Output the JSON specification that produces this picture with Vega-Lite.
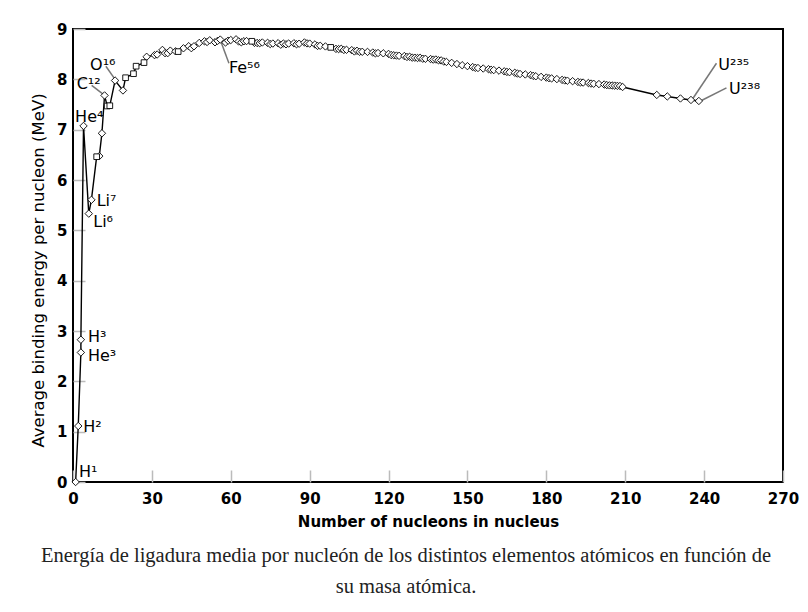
{
  "$schema": "https://vega.github.io/schema/vega-lite/v6.json",
  "width": 710,
  "height": 453,
  "autosize": {"type": "none"},
  "padding": {"left": 73, "top": 29, "right": 25, "bottom": 130},
  "background": "white",
  "config": {"view": {"stroke": "black", "strokeWidth": 2}},
  "title": {
    "text": ["Energía de ligadura media por nucleón de los distintos elementos atómicos en función de", "su masa atómica."],
    "orient": "bottom",
    "anchor": "middle",
    "dx": -22,
    "offset": 17,
    "font": "Liberation Serif",
    "fontSize": 20.5,
    "fontWeight": "normal",
    "color": "#222",
    "lineHeight": 31
  },
  "datasets": {
    "pts": [
      {"A": 1, "E": 0, "m": "d"}, {"A": 2, "E": 1.112, "m": "d"}, {"A": 3, "E": 2.573, "m": "d"}, {"A": 3, "E": 2.827, "m": "d"},
      {"A": 4, "E": 7.074, "m": "d"}, {"A": 6, "E": 5.332, "m": "d"}, {"A": 7, "E": 5.606, "m": "d"}, {"A": 9, "E": 6.463, "m": "s"},
      {"A": 10, "E": 6.475, "m": "d"}, {"A": 11, "E": 6.928, "m": "d"}, {"A": 12, "E": 7.68, "m": "d"}, {"A": 13, "E": 7.47, "m": "s"},
      {"A": 14, "E": 7.476, "m": "s"}, {"A": 16, "E": 7.976, "m": "d"}, {"A": 19, "E": 7.779, "m": "d"}, {"A": 20, "E": 8.032, "m": "s"},
      {"A": 23, "E": 8.112, "m": "s"}, {"A": 24, "E": 8.261, "m": "s"}, {"A": 27, "E": 8.332, "m": "s"}, {"A": 28, "E": 8.448, "m": "d"},
      {"A": 31, "E": 8.481, "m": "d"}, {"A": 32, "E": 8.493, "m": "d"}, {"A": 34, "E": 8.584, "m": "d"}, {"A": 35, "E": 8.52, "m": "d"},
      {"A": 36, "E": 8.52, "m": "d"}, {"A": 37, "E": 8.57, "m": "d"}, {"A": 39, "E": 8.557, "m": "d"}, {"A": 40, "E": 8.551, "m": "s"},
      {"A": 42, "E": 8.617, "m": "d"}, {"A": 44, "E": 8.658, "m": "d"}, {"A": 45, "E": 8.619, "m": "d"}, {"A": 46, "E": 8.656, "m": "d"},
      {"A": 48, "E": 8.723, "m": "d"}, {"A": 50, "E": 8.756, "m": "d"}, {"A": 51, "E": 8.742, "m": "d"}, {"A": 52, "E": 8.776, "m": "d"},
      {"A": 54, "E": 8.736, "m": "d"}, {"A": 55, "E": 8.765, "m": "d"}, {"A": 56, "E": 8.79, "m": "d"}, {"A": 58, "E": 8.732, "m": "d"},
      {"A": 59, "E": 8.768, "m": "d"}, {"A": 60, "E": 8.781, "m": "d"}, {"A": 62, "E": 8.795, "m": "d"}, {"A": 63, "E": 8.752, "m": "d"},
      {"A": 64, "E": 8.736, "m": "d"}, {"A": 65, "E": 8.757, "m": "d"}, {"A": 66, "E": 8.76, "m": "d"}, {"A": 68, "E": 8.756, "m": "s"},
      {"A": 69, "E": 8.725, "m": "d"}, {"A": 70, "E": 8.722, "m": "d"}, {"A": 71, "E": 8.718, "m": "d"}, {"A": 72, "E": 8.732, "m": "d"},
      {"A": 74, "E": 8.725, "m": "d"}, {"A": 75, "E": 8.701, "m": "d"}, {"A": 76, "E": 8.711, "m": "d"}, {"A": 78, "E": 8.718, "m": "d"},
      {"A": 79, "E": 8.688, "m": "d"}, {"A": 80, "E": 8.711, "m": "d"}, {"A": 81, "E": 8.696, "m": "d"}, {"A": 82, "E": 8.711, "m": "d"},
      {"A": 84, "E": 8.717, "m": "d"}, {"A": 85, "E": 8.697, "m": "d"}, {"A": 86, "E": 8.708, "m": "d"}, {"A": 88, "E": 8.733, "m": "d"},
      {"A": 89, "E": 8.714, "m": "d"}, {"A": 90, "E": 8.71, "m": "d"}, {"A": 92, "E": 8.693, "m": "d"}, {"A": 93, "E": 8.664, "m": "d"},
      {"A": 94, "E": 8.667, "m": "d"}, {"A": 96, "E": 8.654, "m": "d"}, {"A": 98, "E": 8.635, "m": "s"}, {"A": 100, "E": 8.605, "m": "d"},
      {"A": 101, "E": 8.601, "m": "d"}, {"A": 102, "E": 8.607, "m": "d"}, {"A": 103, "E": 8.584, "m": "d"}, {"A": 104, "E": 8.587, "m": "d"},
      {"A": 106, "E": 8.58, "m": "d"}, {"A": 107, "E": 8.554, "m": "d"}, {"A": 108, "E": 8.567, "m": "d"}, {"A": 109, "E": 8.548, "m": "d"},
      {"A": 110, "E": 8.547, "m": "d"}, {"A": 112, "E": 8.545, "m": "d"}, {"A": 114, "E": 8.532, "m": "d"}, {"A": 115, "E": 8.516, "m": "d"},
      {"A": 116, "E": 8.523, "m": "d"}, {"A": 118, "E": 8.517, "m": "d"}, {"A": 120, "E": 8.505, "m": "d"}, {"A": 121, "E": 8.482, "m": "d"},
      {"A": 122, "E": 8.478, "m": "d"}, {"A": 123, "E": 8.472, "m": "d"}, {"A": 124, "E": 8.467, "m": "d"}, {"A": 126, "E": 8.463, "m": "d"},
      {"A": 127, "E": 8.445, "m": "d"}, {"A": 128, "E": 8.449, "m": "d"}, {"A": 129, "E": 8.431, "m": "d"}, {"A": 130, "E": 8.43, "m": "d"},
      {"A": 131, "E": 8.424, "m": "d"}, {"A": 132, "E": 8.428, "m": "d"}, {"A": 133, "E": 8.41, "m": "d"}, {"A": 134, "E": 8.408, "m": "d"},
      {"A": 136, "E": 8.403, "m": "d"}, {"A": 137, "E": 8.392, "m": "d"}, {"A": 138, "E": 8.394, "m": "d"}, {"A": 139, "E": 8.378, "m": "d"},
      {"A": 140, "E": 8.376, "m": "d"}, {"A": 141, "E": 8.354, "m": "d"}, {"A": 142, "E": 8.346, "m": "d"}, {"A": 144, "E": 8.327, "m": "d"},
      {"A": 146, "E": 8.304, "m": "d"}, {"A": 148, "E": 8.28, "m": "d"}, {"A": 150, "E": 8.262, "m": "d"}, {"A": 152, "E": 8.244, "m": "d"},
      {"A": 153, "E": 8.229, "m": "d"}, {"A": 154, "E": 8.225, "m": "d"}, {"A": 156, "E": 8.215, "m": "d"}, {"A": 158, "E": 8.202, "m": "d"},
      {"A": 159, "E": 8.189, "m": "d"}, {"A": 160, "E": 8.184, "m": "d"}, {"A": 162, "E": 8.173, "m": "d"}, {"A": 164, "E": 8.159, "m": "d"},
      {"A": 165, "E": 8.147, "m": "d"}, {"A": 166, "E": 8.142, "m": "d"}, {"A": 168, "E": 8.13, "m": "d"}, {"A": 169, "E": 8.115, "m": "d"},
      {"A": 170, "E": 8.106, "m": "d"}, {"A": 172, "E": 8.097, "m": "d"}, {"A": 174, "E": 8.084, "m": "d"}, {"A": 175, "E": 8.069, "m": "d"},
      {"A": 176, "E": 8.061, "m": "d"}, {"A": 178, "E": 8.049, "m": "d"}, {"A": 180, "E": 8.035, "m": "d"}, {"A": 181, "E": 8.023, "m": "d"},
      {"A": 182, "E": 8.018, "m": "d"}, {"A": 184, "E": 8.005, "m": "d"}, {"A": 186, "E": 7.989, "m": "d"}, {"A": 187, "E": 7.978, "m": "d"},
      {"A": 188, "E": 7.973, "m": "d"}, {"A": 190, "E": 7.963, "m": "d"}, {"A": 192, "E": 7.948, "m": "d"}, {"A": 193, "E": 7.938, "m": "d"},
      {"A": 194, "E": 7.936, "m": "d"}, {"A": 196, "E": 7.927, "m": "d"}, {"A": 197, "E": 7.916, "m": "d"}, {"A": 198, "E": 7.912, "m": "d"},
      {"A": 200, "E": 7.906, "m": "d"}, {"A": 202, "E": 7.897, "m": "d"}, {"A": 203, "E": 7.886, "m": "d"}, {"A": 204, "E": 7.88, "m": "d"},
      {"A": 205, "E": 7.878, "m": "d"}, {"A": 206, "E": 7.875, "m": "d"}, {"A": 207, "E": 7.87, "m": "d"}, {"A": 208, "E": 7.868, "m": "d"},
      {"A": 209, "E": 7.848, "m": "d"}, {"A": 222, "E": 7.69, "m": "d"}, {"A": 226, "E": 7.66, "m": "d"}, {"A": 231, "E": 7.62, "m": "d"},
      {"A": 235, "E": 7.59, "m": "d"}, {"A": 238, "E": 7.57, "m": "d"}
    ],
    "labels": [
      {"A": 2.3, "E": 0.2, "t": "H¹"},
      {"A": 3.9, "E": 1.09, "t": "H²"},
      {"A": 5.7, "E": 2.88, "t": "H³"},
      {"A": 5.7, "E": 2.5, "t": "He³"},
      {"A": 0.8, "E": 7.25, "t": "He⁴"},
      {"A": 9.0, "E": 5.59, "t": "Li⁷"},
      {"A": 7.7, "E": 5.17, "t": "Li⁶"},
      {"A": 1.4, "E": 7.91, "t": "C¹²"},
      {"A": 6.5, "E": 8.28, "t": "O¹⁶"},
      {"A": 59.3, "E": 8.22, "t": "Fe⁵⁶"},
      {"A": 245.4, "E": 8.29, "t": "U²³⁵"},
      {"A": 249.5, "E": 7.81, "t": "U²³⁸"}
    ],
    "leaders": [
      {"A": 7.1, "E": 7.88, "A2": 11.8, "E2": 7.69},
      {"A": 12.5, "E": 8.26, "A2": 16, "E2": 8.0},
      {"A": 56.3, "E": 8.74, "A2": 59.3, "E2": 8.32},
      {"A": 244.7, "E": 8.32, "A2": 235.6, "E2": 7.61},
      {"A": 248.5, "E": 7.83, "A2": 239, "E2": 7.58}
    ]
  },
  "encoding": {
    "x": {
      "field": "A", "type": "quantitative",
      "scale": {"domain": [0, 270], "nice": false, "zero": false},
      "axis": {
        "title": "Number of nucleons in nucleus",
        "values": [0, 30, 60, 90, 120, 150, 180, 210, 240, 270],
        "domain": false, "grid": false,
        "tickSize": -12, "tickColor": "#bbbbbb", "tickWidth": 1.5,
        "labelPadding": 21, "labelFlush": false, "labelOverlap": false,
        "labelFont": "DejaVu Sans", "labelFontSize": 15, "labelFontWeight": "bold", "labelColor": "black",
        "titleFont": "DejaVu Sans", "titleFontSize": 15, "titleFontWeight": "bold", "titleColor": "black",
        "titlePadding": 8
      }
    },
    "y": {
      "field": "E", "type": "quantitative",
      "scale": {"domain": [0, 9], "nice": false, "zero": false},
      "axis": {
        "title": "Average binding energy per nucleon (MeV)",
        "values": [0, 1, 2, 3, 4, 5, 6, 7, 8, 9],
        "domain": false, "grid": false,
        "tickSize": -12, "tickColor": "#bbbbbb", "tickWidth": 1.5,
        "labelPadding": 18, "labelFlush": false, "labelOverlap": false,
        "labelFont": "DejaVu Sans", "labelFontSize": 15, "labelFontWeight": "bold", "labelColor": "black",
        "titleFont": "DejaVu Sans", "titleFontSize": 16.5, "titleFontWeight": "normal", "titleColor": "black",
        "titlePadding": 10, "titleY": 241
      }
    }
  },
  "layer": [
    {
      "data": {"name": "leaders"},
      "mark": {"type": "rule", "color": "#777777", "strokeWidth": 1.5},
      "encoding": {"x2": {"field": "A2"}, "y2": {"field": "E2"}}
    },
    {
      "data": {"name": "pts"},
      "mark": {"type": "line", "color": "black", "strokeWidth": 1.4}
    },
    {
      "data": {"name": "pts"},
      "transform": [{"filter": "datum.m === 'd'"}],
      "mark": {"type": "point", "shape": "diamond", "filled": true, "fill": "white", "stroke": "black", "strokeWidth": 0.9, "size": 55, "opacity": 1}
    },
    {
      "data": {"name": "pts"},
      "transform": [{"filter": "datum.m === 's'"}],
      "mark": {"type": "point", "shape": "square", "filled": true, "fill": "white", "stroke": "black", "strokeWidth": 0.9, "size": 32, "opacity": 1}
    },
    {
      "data": {"name": "labels"},
      "mark": {"type": "text", "align": "left", "baseline": "middle", "font": "DejaVu Sans", "fontSize": 16, "color": "black"},
      "encoding": {"text": {"field": "t"}}
    }
  ]
}
